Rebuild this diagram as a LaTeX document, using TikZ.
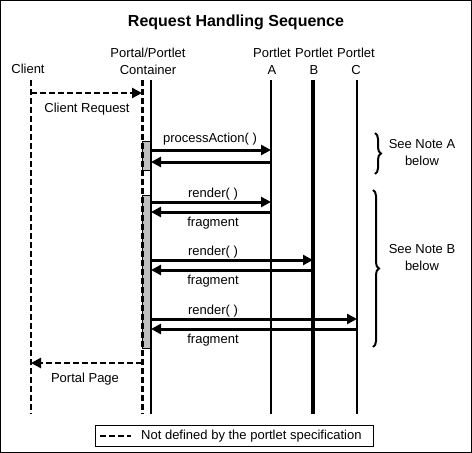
\documentclass[tikz,border=0pt]{standalone}
\usepackage{fontspec}
\setmainfont{Liberation Sans}
\usetikzlibrary{arrows.meta,decorations.pathreplacing}
\definecolor{actgray}{HTML}{C0C0C0}
\tikzset{
  lbl/.style={font=\fontsize{13}{17}\selectfont,align=center,inner sep=0pt},
  msg/.style={line width=3pt,-{Triangle[length=10pt,width=10pt]}},
  undef/.style={line width=2.5pt,dash pattern=on 6pt off 3pt},
  life/.style={line width=2pt},
  act/.style={draw=black,line width=0.6pt,fill=actgray},
  brc/.style={decorate,decoration={brace,amplitude=6pt},line width=2pt}
}
\begin{document}
\begin{tikzpicture}[x=1pt,y=-1pt]
        \useasboundingbox (0,0) rectangle (472,453);
        \draw[line width=1pt] (0.5,0.5) rectangle (471.5,452.5);
        %% Heads
        \node[font=\fontsize{16}{19}\selectfont\bfseries] (title) at (236,22) {Request Handling Sequence};
        \node[lbl] (client) at (28,69) {Client};
        \node[lbl] (container) at (148,61) {Portal/Portlet\\Container};
        \node[lbl] (portA) at (272,61) {Portlet\\A};
        \node[lbl] (portB) at (314,61) {Portlet\\B};
        \node[lbl] (portC) at (356,61) {Portlet\\C};
        %% Lifelines
        \foreach \n/\x in {cl/31,cd/142,cs/151,pa/271,pb/313,pc/357} {
            \coordinate (\n) at (\x,80);
            \coordinate (\n-b) at (\x,414);
        }
        \draw[act] (142,141) rectangle (151,170);
        \draw[act] (142,195) rectangle (151,348);
        \draw[undef,line width=2pt] (cl) -- (cl-b);
        \draw[undef,line width=3pt] (cd) -- (cd-b);
        \draw[life] (cs) -- (cs-b);
        \draw[life] (pa) -- (pa-b);
        \draw[life,line width=4pt] (pb) -- (pb-b);
        \draw[life] (pc) -- (pc-b);
        %% Messages
        \draw[msg,undef] (cl |- 0,93) -- (cd |- 0,93);
        \node[lbl] (request) at (87,109) {Client Request};
        \draw[msg] (cs |- 0,150) -- (pa |- 0,150);
        \draw[msg] (pa |- 0,162) -- (cs |- 0,162);
        \node[lbl] (action) at (210,139) {processAction( )};
        \foreach \p/\y in {pa/202,pb/260,pc/319} {
            \draw[msg] (cs |- 0,\y) -- (\p |- 0,\y);
            \draw[msg] (\p |- 0,\y+10) -- (cs |- 0,\y+10);
            \node[lbl] (render-\p) at (213,\y-8) {render( )};
            \node[lbl] (frag-\p) at (213,\y+21) {fragment};
        }
        \draw[msg,undef] (cd |- 0,363) -- (cl |- 0,363);
        \node[lbl] (page) at (85,379) {Portal Page};
        %% Notes
        \coordinate (braceA) at (375,133);
        \coordinate (braceA-b) at (375,174);
        \draw[brc] (braceA) -- (braceA-b);
        \node[lbl] (noteA) at (422,153) {See Note A\\below};
        \coordinate (braceB) at (373,190);
        \coordinate (braceB-b) at (373,347);
        \draw[brc] (braceB) -- (braceB-b);
        \node[lbl] (noteB) at (422,258) {See Note B\\below};
        %% Legend
        \draw[line width=0.8pt] (95,425) rectangle (373,446);
        \coordinate (leg) at (100,436);
        \coordinate (leg-b) at (131,436);
        \draw[undef] (leg) -- (leg-b);
        \node[lbl,anchor=west] (legtext) at (141,436) {Not defined by the portlet specification};
\end{tikzpicture}
\end{document}
